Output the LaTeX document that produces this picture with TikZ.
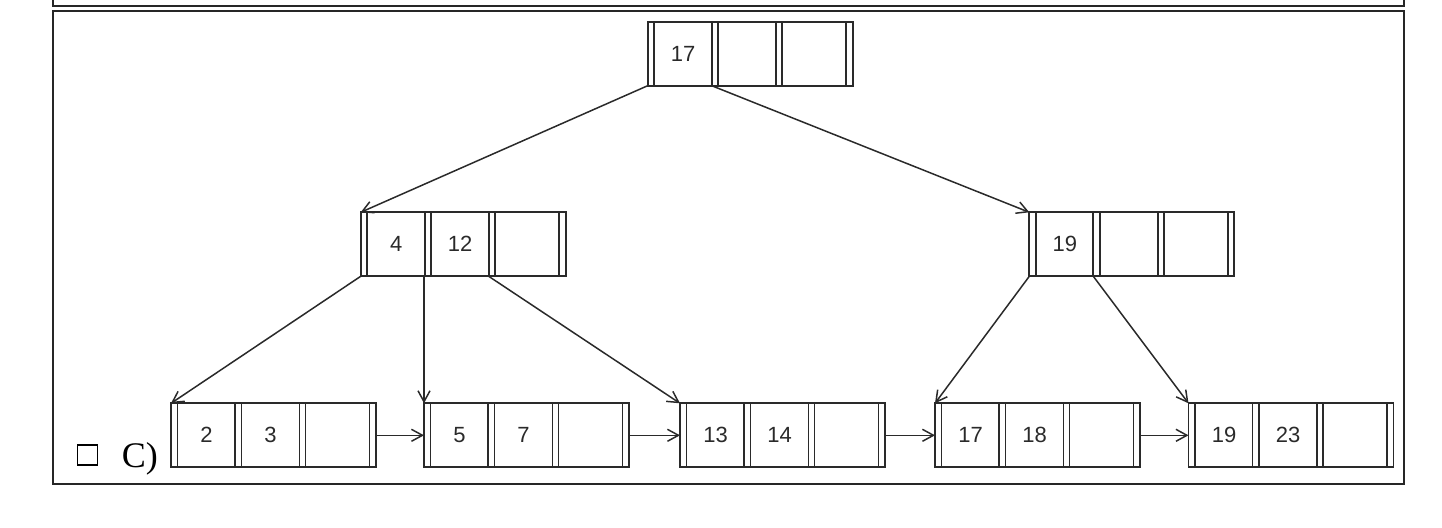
\documentclass[tikz,border=0pt]{standalone}
\usepackage{fontspec}
\setmainfont{Liberation Serif}
\newfontfamily\numfont{Liberation Sans}
\usetikzlibrary{arrows.meta,calc}
\definecolor{ink}{HTML}{2A2A2A}
\tikzset{
  bbox/.style={draw=ink,line width=0.9pt,minimum width=102.5pt,minimum height=32pt,inner sep=0pt,outer sep=0pt},
  bline/.style={draw=ink,line width=0.9pt},
  keytxt/.style={inner sep=0pt,font=\numfont\fontsize{11}{13}\selectfont,text=ink},
  link/.style={draw=ink,line width=0.75pt,-{Straight Barb[length=5.5pt,width=6pt]}},
  frame/.style={draw=black!85,line width=0.9pt},
}
\newcommand\bnodeat[5]{%
  \node[bbox] (#1) at (#2+102.5,#3+32) {};
  \foreach \o in {6.5,64,70.5,128.5,134.5,198.5}
    \draw[bline] ($(#1.north west)+(\o,0)$) -- ($(#1.south west)+(\o,0)$);
  \coordinate (#1p1) at ($(#1.south west)+(64,0)$);
  \coordinate (#1p2) at ($(#1.south west)+(128,0)$);
  \node[keytxt] (#1ka) at ($(#1.west)+(35.5,0)$) {#4};
  \node[keytxt] (#1kb) at ($(#1.west)+(99.5,0)$) {#5};
}
\begin{document}
\begin{tikzpicture}[x=0.5pt,y=-0.5pt]
\useasboundingbox (0,0) rectangle (1442,527);
% frames
\draw[frame] (53.3,0) -- (53.3,5.7) -- (1404.3,5.7) -- (1404.3,0);
\draw[frame] (53.3,10.7) rectangle (1404.3,484.3);
% nodes
\bnodeat{root}{647.7}{21.7}{17}{}
\bnodeat{na}{360.7}{212.3}{4}{12}
\bnodeat{nb}{1029.3}{212.3}{19}{}
\bnodeat{la}{171}{403.3}{2}{3}
\bnodeat{lb}{424}{403.3}{5}{7}
\bnodeat{lc}{680}{403.3}{13}{14}
\bnodeat{ld}{935}{403.3}{17}{18}
\bnodeat{le}{1188.5}{403.3}{19}{23}
% tree edges
\draw[link] (root.south west) -- (na.north west);
\draw[link] (rootp1) -- (nb.north west);
\draw[link] (na.south west) -- (la.north west);
\draw[link] (lb.north west |- na.south) -- (lb.north west);
\draw[link] (nap2) -- (lc.north west);
\draw[link] (nb.south west) -- (ld.north west);
\draw[link] (nbp1) -- (le.north west);
% leaf links
\draw[link] (la.east) -- (lb.west);
\draw[link] (lb.east) -- (lc.west);
\draw[link] (lc.east) -- (ld.west);
\draw[link] (ld.east) -- (le.west);
% label
\node[draw=black,line width=0.6pt,minimum size=10pt,inner sep=0pt] (chk) at (87.8,455) {};
\node[anchor=base west,inner sep=0pt,font=\fontsize{18}{20}\selectfont] (lbl) at (121.5,467) {C)};
\end{tikzpicture}
\end{document}
